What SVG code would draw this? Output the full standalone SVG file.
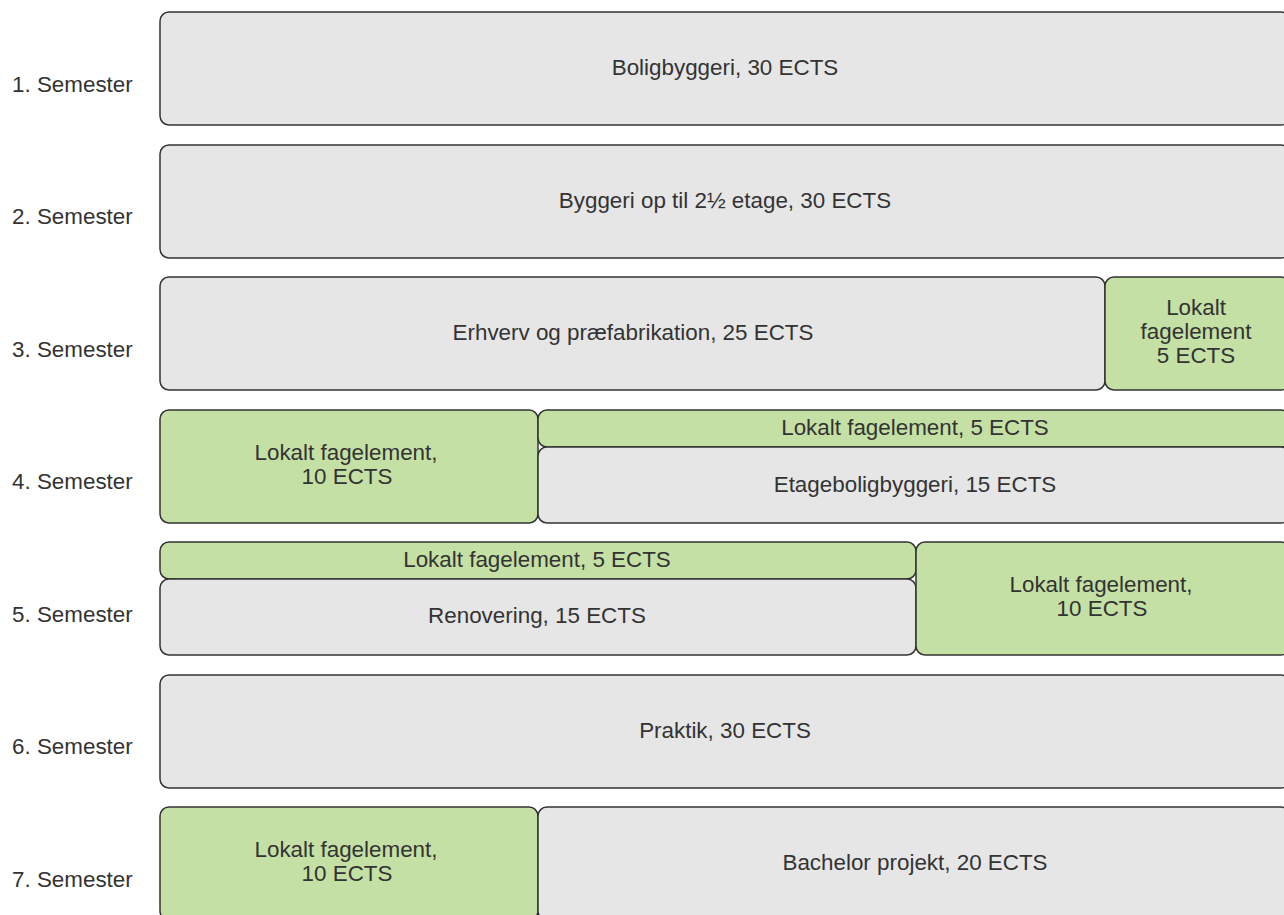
<svg xmlns="http://www.w3.org/2000/svg" width="1284" height="915" viewBox="0 0 1284 915">
<style>
.g{fill:#e6e6e6;stroke:#333;stroke-width:1.5}
.v{fill:#c5e0a5;stroke:#333;stroke-width:1.5}
text{font-family:"Liberation Sans",Arial,sans-serif;font-size:22.4px;fill:#333;text-anchor:middle}
.l{text-anchor:start}
</style>
<rect width="1284" height="915" fill="#fff"/>
<g id="labels">
<text class="l" x="12" y="92">1. Semester</text>
<text class="l" x="12" y="224">2. Semester</text>
<text class="l" x="12" y="357">3. Semester</text>
<text class="l" x="12" y="489">4. Semester</text>
<text class="l" x="12" y="622">5. Semester</text>
<text class="l" x="12" y="754">6. Semester</text>
<text class="l" x="12" y="887">7. Semester</text>
</g>
<g id="s1"><rect class="g" x="160" y="12" width="1130" height="113" rx="9"/><text x="725" y="75">Boligbyggeri, 30 ECTS</text></g>
<g id="s2"><rect class="g" x="160" y="145" width="1130" height="113" rx="9"/><text x="725" y="208">Byggeri op til 2½ etage, 30 ECTS</text></g>
<g id="s3a"><rect class="g" x="160" y="277" width="945" height="113" rx="9"/><text x="633" y="340">Erhverv og præfabrikation, 25 ECTS</text></g>
<g id="s3b"><rect class="v" x="1105" y="277" width="185" height="113" rx="9"/><text x="1196" y="315">Lokalt</text><text x="1196" y="339">fagelement</text><text x="1196" y="363">5 ECTS</text></g>
<g id="s4a"><rect class="v" x="160" y="410" width="378" height="113" rx="9"/><text x="346" y="460">Lokalt fagelement,</text><text x="347" y="484">10 ECTS</text></g>
<g id="s4b"><rect class="v" x="538" y="410" width="752" height="37" rx="9"/><text x="915" y="435">Lokalt fagelement, 5 ECTS</text></g>
<g id="s4c"><rect class="g" x="538" y="447" width="752" height="76" rx="9"/><text x="915" y="492">Etageboligbyggeri, 15 ECTS</text></g>
<g id="s5a"><rect class="v" x="160" y="542" width="756" height="37" rx="9"/><text x="537" y="567">Lokalt fagelement, 5 ECTS</text></g>
<g id="s5b"><rect class="g" x="160" y="579" width="756" height="76" rx="9"/><text x="537" y="623">Renovering, 15 ECTS</text></g>
<g id="s5c"><rect class="v" x="916" y="542" width="374" height="113" rx="9"/><text x="1101" y="592">Lokalt fagelement,</text><text x="1102" y="616">10 ECTS</text></g>
<g id="s6"><rect class="g" x="160" y="675" width="1130" height="113" rx="9"/><text x="725" y="738">Praktik, 30 ECTS</text></g>
<g id="s7a"><rect class="v" x="160" y="807" width="378" height="113" rx="9"/><text x="346" y="857">Lokalt fagelement,</text><text x="347" y="881">10 ECTS</text></g>
<g id="s7b"><rect class="g" x="538" y="807" width="752" height="113" rx="9"/><text x="915" y="870">Bachelor projekt, 20 ECTS</text></g>
<g id="connectors"/>
</svg>
